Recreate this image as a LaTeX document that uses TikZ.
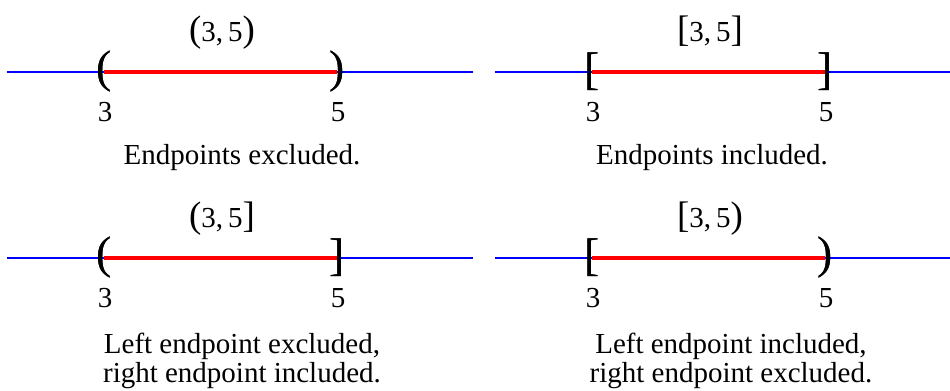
\documentclass[tikz,border=0pt]{standalone}
\usepackage{fontspec}
\setmainfont{Liberation Serif}
\usepackage{tikz}
\usetikzlibrary{positioning}
\tikzset{
  axisline/.style={draw=blue,line width=0.6pt},
  seg/.style={draw=red,line width=2.7pt},
  endp/.style={inner sep=0pt,font=\fontsize{26}{26}\selectfont},
  num/.style={inner sep=0pt,anchor=base,font=\fontsize{16.5}{18}\selectfont},
  capt/.style={inner sep=0pt,anchor=base,align=center,font=\fontsize{16.5}{17}\selectfont},
}
\newcommand{\lbdelim}[1]{{\fontsize{21}{21}\selectfont #1}}

\begin{document}
\begin{tikzpicture}[x=0.02cm,y=-0.02cm]
  \useasboundingbox (0,0) rectangle (950,391);
  \foreach \ox/\oy/\lb/\rb/\bs/\be/\cx/\cy/\txt [count=\i] in {
      0/0/{(}/{)}/7/473/242/165/{Endpoints excluded.},
      488/0/{[}/{]}/495/950/712/165/{Endpoints included.},
      0/186/{(}/{]}/7/473/242/383/{Left endpoint excluded,\\right endpoint included.},
      488/186/{[}/{)}/495/950/731/383/{Left endpoint included,\\right endpoint excluded.}} {
    \coordinate (bs\i) at (\bs,\oy+72);
    \coordinate (be\i) at (\be,\oy+72);
    \draw[axisline] (bs\i) -- (be\i);
    \node[endp] (lb\i) at (\ox+104,\oy+72) {\lb};
    \node[endp] (rb\i) at (\ox+337,\oy+72) {\rb};
    \draw[seg] (lb\i.center) -- (rb\i.center);
    \node[endp] at (lb\i) {\lb};
    \node[endp] at (rb\i) {\rb};
    \node[num] (lo\i) at (\ox+105,\oy+122) {3};
    \node[num] (hi\i) at (\ox+338,\oy+122) {5};
    \node[num] (lab\i) at (\ox+222,\oy+42) {\lbdelim{\lb}3,\,5\lbdelim{\rb}};
    \node[capt] (txt\i) at (\cx,\cy) {\txt};
  }
\end{tikzpicture}
\end{document}
